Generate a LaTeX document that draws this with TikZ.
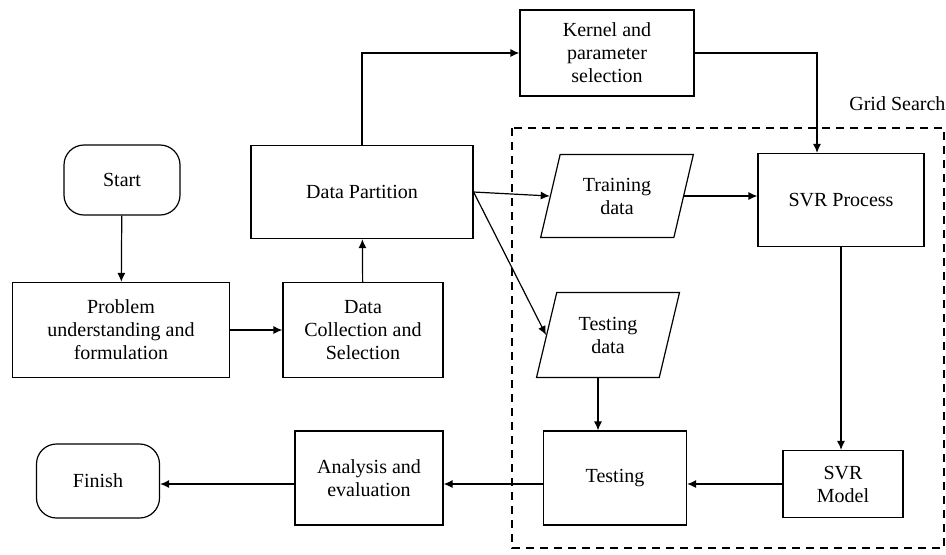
\documentclass[tikz,border=0pt]{standalone}
\usepackage{fontspec}
\setmainfont{Liberation Serif}
\usetikzlibrary{arrows.meta,shapes.geometric}

\begin{document}
\begin{tikzpicture}[x=0.5pt,y=-0.5pt,line width=0.6pt,
  font=\fontsize{10}{11.5}\selectfont,
  box/.style={draw,rectangle,align=center,inner sep=2pt},
  term/.style={draw,rectangle,rounded corners=10pt,align=center},
  iodata/.style={draw,trapezium,trapezium left angle=73,trapezium right angle=107,
    trapezium stretches=true,align=center,inner sep=1pt},
  arr/.style={-{Latex[length=4.5pt,width=4pt]}},
  gridbox/.style={dash pattern=on 4pt off 3pt}]
\useasboundingbox (0,0) rectangle (946,554);
\draw[gridbox] (512,128) rectangle (944,548);
\node[anchor=base east,inner sep=0pt] (grid) at (946,110) {Grid Search};
\node[term,minimum width=58pt,minimum height=35pt] (start) at (122,180) {Start};
\node[box,minimum width=108.5pt,minimum height=47.5pt] (prob) at (121,330) {Problem\\understanding and\\formulation};
\node[box,minimum width=80pt,minimum height=47.5pt] (coll) at (363,330) {Data\\Collection and\\Selection};
\node[box,minimum width=111pt,minimum height=46.5pt] (part) at (362,192) {Data Partition};
\node[box,minimum width=87pt,minimum height=43pt] (kern) at (607,53) {Kernel and\\parameter\\selection};
\node[iodata,minimum width=76.5pt,minimum height=41.5pt] (train) at (617,196) {Training\\data};
\node[box,minimum width=83pt,minimum height=46.5pt] (svrp) at (841,200) {SVR Process};
\node[iodata,minimum width=71.5pt,minimum height=42.5pt] (testd) at (608,335) {Testing\\data};
\node[box,minimum width=71.5pt,minimum height=47pt] (test) at (615,478) {Testing};
\node[box,minimum width=60pt,minimum height=33.5pt] (svrm) at (843,484) {SVR\\Model};
\node[box,minimum width=74pt,minimum height=47pt] (ana) at (369,478) {Analysis and\\evaluation};
\node[term,minimum width=61.5pt,minimum height=37pt] (fin) at (98,481) {Finish};
\draw[arr] (start) -- (prob);
\draw[arr] (prob) -- (coll);
\draw[arr] (coll) -- (part);
\draw[arr] (part.north) |- (kern.west);
\draw[arr] (kern.east) -| ([xshift=-12pt]svrp.north);
\draw[arr] (part.east) -- (train.west);
\draw[arr] (part.east) -- (testd.west);
\draw[arr] (train.east) -- (train.east -| svrp.west);
\draw[arr] (svrp.south) -- (svrp.south |- svrm.north);
\draw[arr] ([xshift=-5pt]testd.south) -- ([xshift=-5pt]testd.south |- test.north);
\draw[arr] (svrm.west) -- (svrm.west -| test.east);
\draw[arr] (test.west |- svrm.west) -- (ana.east |- svrm.west);
\draw[arr] (ana.west |- svrm.west) -- (fin.east |- svrm.west);
\end{tikzpicture}
\end{document}
